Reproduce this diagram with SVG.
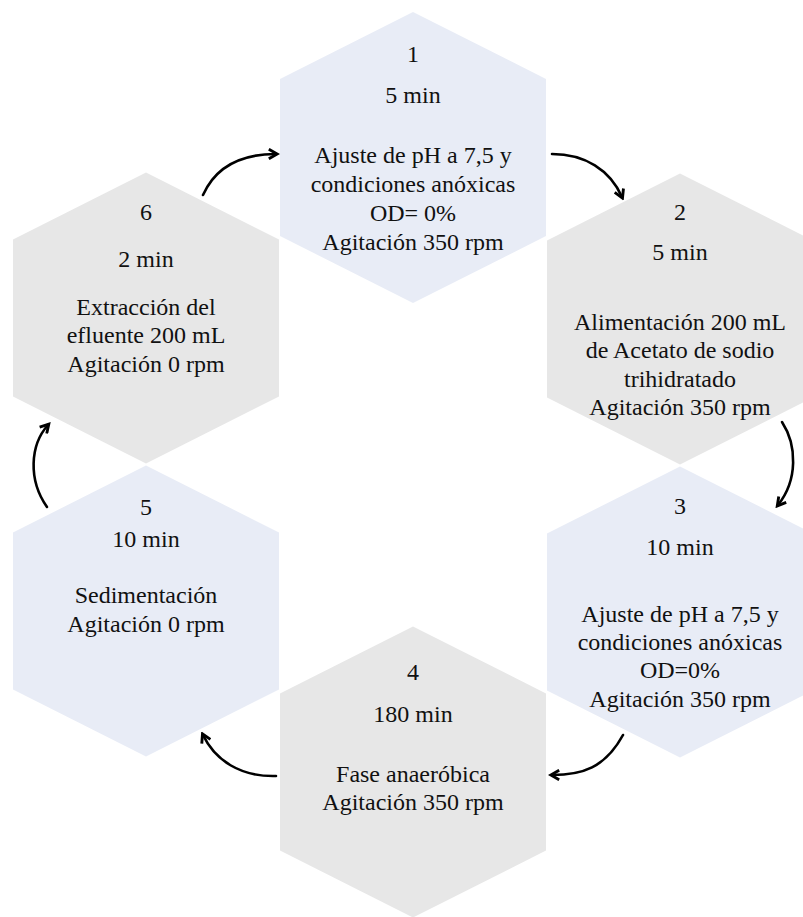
<svg xmlns="http://www.w3.org/2000/svg" xmlns:xlink="http://www.w3.org/1999/xlink" width="803" height="917" viewBox="0 0 803 917">
<style>
.blue{fill:#E8ECF6;}
.gray{fill:#E7E7E7;}
text{font-family:'Liberation Serif','Times New Roman',serif;font-size:24px;fill:#111;text-anchor:middle;}
.conn path{fill:none;stroke:#000;stroke-width:2.6;stroke-linecap:round;}
</style>
<defs>
<polygon id="hex" points="0,-145.5 133,-78.5 133,78.5 0,145.5 -133,78.5 -133,-78.5"/>
<marker id="ah" viewBox="0 0 10 10" refX="7" refY="5" markerWidth="4.6" markerHeight="4.6" orient="auto" markerUnits="strokeWidth">
<path d="M1,1 L8,5 L1,9" fill="none" stroke="#000" stroke-width="2.4" stroke-linejoin="miter"/>
</marker>
</defs>
<rect width="803" height="917" fill="#fff"/>
<g id="node1" font-family="Liberation Serif">
<use xlink:href="#hex" href="#hex" class="blue" transform="translate(413,157.5)"/>
<text x="413" y="62">1</text>
<text x="413" y="103">5 min</text>
<text x="413" y="163">Ajuste de pH a 7,5 y</text>
<text x="413" y="192">condiciones anóxicas</text>
<text x="413" y="221">OD= 0%</text>
<text x="413" y="250">Agitación 350 rpm</text>
</g>
<g id="node2" font-family="Liberation Serif">
<use xlink:href="#hex" href="#hex" class="gray" transform="translate(680,319)"/>
<text x="680" y="220">2</text>
<text x="680" y="260">5 min</text>
<text x="680" y="330">Alimentación 200 mL</text>
<text x="680" y="358">de Acetato de sodio</text>
<text x="680" y="387">trihidratado</text>
<text x="680" y="415">Agitación 350 rpm</text>
</g>
<g id="node3" font-family="Liberation Serif">
<use xlink:href="#hex" href="#hex" class="blue" transform="translate(680,612)"/>
<text x="680" y="514">3</text>
<text x="680" y="555">10 min</text>
<text x="680" y="622">Ajuste de pH a 7,5 y</text>
<text x="680" y="650">condiciones anóxicas</text>
<text x="680" y="678">OD=0%</text>
<text x="680" y="707">Agitación 350 rpm</text>
</g>
<g id="node4" font-family="Liberation Serif">
<use xlink:href="#hex" href="#hex" class="gray" transform="translate(413,772)"/>
<text x="413" y="680">4</text>
<text x="413" y="722">180 min</text>
<text x="413" y="782">Fase anaeróbica</text>
<text x="413" y="810">Agitación 350 rpm</text>
</g>
<g id="node5" font-family="Liberation Serif">
<use xlink:href="#hex" href="#hex" class="blue" transform="translate(146,611)"/>
<text x="146" y="515">5</text>
<text x="146" y="547">10 min</text>
<text x="146" y="603">Sedimentación</text>
<text x="146" y="632">Agitación 0 rpm</text>
</g>
<g id="node6" font-family="Liberation Serif">
<use xlink:href="#hex" href="#hex" class="gray" transform="translate(146,318)"/>
<text x="146" y="220">6</text>
<text x="146" y="267">2 min</text>
<text x="146" y="315">Extracción del</text>
<text x="146" y="343">efluente 200 mL</text>
<text x="146" y="372">Agitación 0 rpm</text>
</g>
<g id="connectors" class="conn">
<path d="M203,195 C215,168 240,154 276,154" marker-end="url(#ah)"/>
<path d="M552,154 C585,154 610,170 622,197" marker-end="url(#ah)"/>
<path d="M782,422 C797,445 798,480 778,505" marker-end="url(#ah)"/>
<path d="M623,735 C605,768 582,775 552,775" marker-end="url(#ah)"/>
<path d="M276,776 C240,777 215,760 203,735" marker-end="url(#ah)"/>
<path d="M47,507 C28,480 30,445 48,425" marker-end="url(#ah)"/>
</g>
</svg>
